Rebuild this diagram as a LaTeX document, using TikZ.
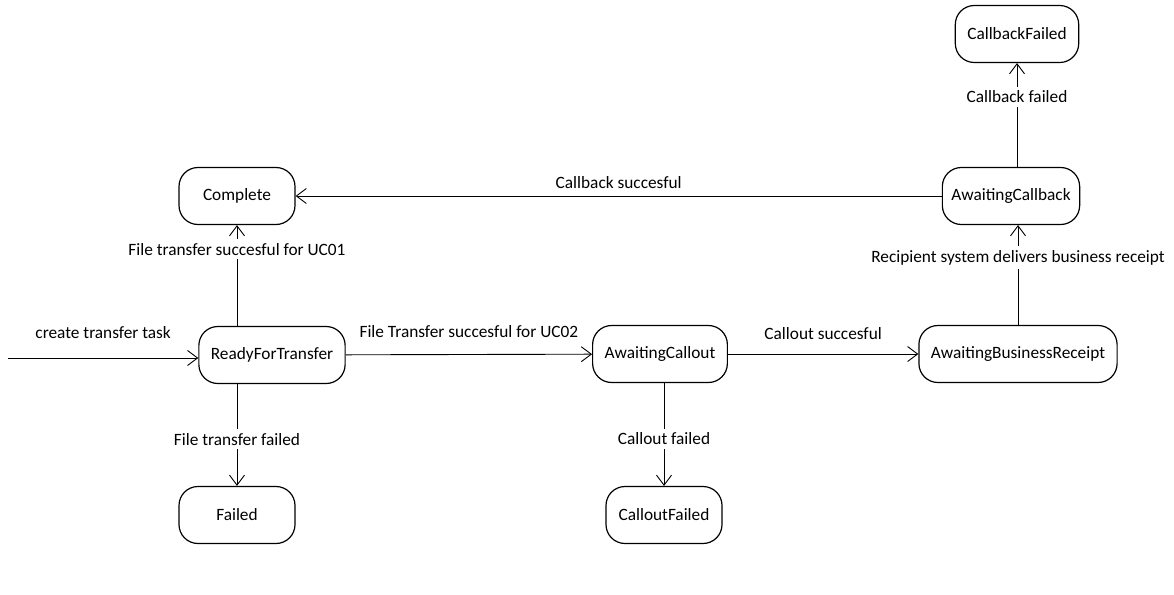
\documentclass[tikz,border=0pt]{standalone}
\usepackage{fontspec}
\setmainfont{Carlito}
\usetikzlibrary{arrows.meta}
\begin{document}
\begin{tikzpicture}[x=1pt,y=-1pt,
  state/.style={draw, line width=1.2pt, rounded corners=19pt,
    minimum height=57pt, minimum width=116pt, inner xsep=12pt,
    font=\fontsize{17.3}{20}\selectfont},
  trans/.style={line width=0.9pt,
    -{Straight Barb[length=10pt,width=15pt,line width=0.9pt]}},
  lbl/.style={font=\fontsize{17.3}{20}\selectfont, inner sep=0pt, anchor=base},
  vlbl/.style={lbl, fill=white, inner xsep=2pt, inner ysep=4pt}]
\useasboundingbox (0,0) rectangle (1174,594);

% states
\node[state] (complete)  at (237,196)  {Complete};
\node[state] (ready)     at (272,355)  {ReadyForTransfer};
\node[state] (failed)    at (237,515)  {Failed};
\node[state] (callout)   at (660,354)  {AwaitingCallout};
\node[state] (coutfail)  at (664,515)  {CalloutFailed};
\node[state] (receipt)   at (1018,354) {AwaitingBusinessReceipt};
\node[state, inner xsep=9pt] (callback)  at (1011,196) {AwaitingCallback};
\node[state] (cbfail)    at (1017,34)  {CallbackFailed};

% initial transition
\coordinate (start) at (8,358);
\draw[trans] (start) -- node[lbl, midway, yshift=20pt] {create transfer task} (start -| ready.west);

% horizontal transitions
\draw[trans] (ready) -- node[lbl, midway, yshift=17pt] {File Transfer succesful for UC02} (callout);
\draw[trans] (callout) -- node[lbl, midway, yshift=15pt] {Callout succesful} (receipt);
\draw[trans] (callback) -- node[lbl, midway, yshift=8pt] {Callback succesful} (complete);

% vertical transitions
\draw[trans] (ready.north -| complete.south) -- node[vlbl, pos=0.70] {File transfer succesful for UC01} (complete.south);
\draw[trans] (ready.south -| failed.north) -- node[vlbl, pos=0.6] {File transfer failed} (failed.north);
\draw[trans] (callout.south -| coutfail.north) -- node[vlbl, pos=0.6] {Callout failed} (coutfail.north);
\draw[trans] (receipt.north) -- node[vlbl, pos=0.63] {Recipient system delivers business receipt} (receipt.north |- callback.south);
\draw[trans] (callback.north -| cbfail.south) -- node[vlbl, pos=0.62] {Callback failed} (cbfail.south);
\end{tikzpicture}
\end{document}
